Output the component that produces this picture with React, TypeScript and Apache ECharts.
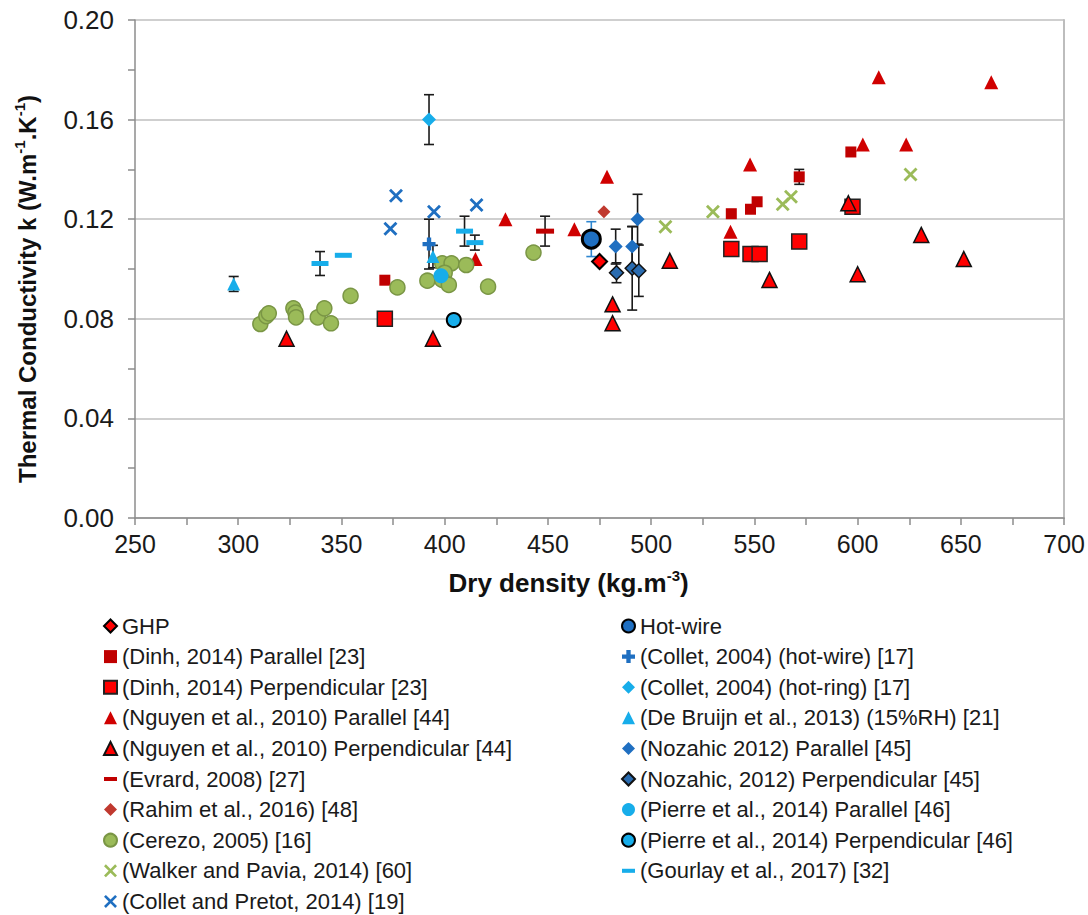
import React, { useEffect, useRef } from "react";
import * as echarts from "echarts";

// ---- data: [dry density, thermal conductivity, error (half-range, 0 = none)] ----
const ghp = [[475.0, 0.103, 0]];
const hotWire = [[471.0, 0.112, 0.007]];
const dinhParallel = [[371.0, 0.0955, 0], [538.8, 0.1222, 0], [548.1, 0.124, 0], [551.3, 0.127, 0], [571.7, 0.137, 0.003], [596.7, 0.147, 0]];
const dinhPerp = [[371.0, 0.080, 0], [538.8, 0.108, 0], [548.1, 0.106, 0], [552.5, 0.106, 0], [571.7, 0.111, 0], [597.5, 0.125, 0]];
const nguyenParallel = [[414.9, 0.104, 0], [429.4, 0.120, 0], [462.8, 0.116, 0], [478.6, 0.137, 0], [538.4, 0.115, 0], [547.9, 0.142, 0], [602.5, 0.150, 0], [610.2, 0.177, 0], [623.5, 0.150, 0], [664.7, 0.175, 0]];
const nguyenPerp = [[323.4, 0.072, 0], [394.3, 0.072, 0], [481.3, 0.0858, 0], [481.3, 0.0782, 0], [509.0, 0.1033, 0], [557.3, 0.0956, 0], [595.5, 0.1264, 0], [600.0, 0.0979, 0], [630.8, 0.1137, 0], [651.4, 0.104, 0]];
const evrard = [[448.6, 0.1152, 0.006]];
const rahim = [[477.1, 0.123, 0]];
const cerezo = [[310.7, 0.0779, 0], [313.6, 0.0811, 0], [314.8, 0.0822, 0], [326.7, 0.0842, 0], [327.7, 0.0825, 0], [328.0, 0.0806, 0], [338.5, 0.0806, 0], [341.7, 0.0842, 0], [344.9, 0.0782, 0], [354.4, 0.0892, 0], [377.1, 0.0926, 0], [391.6, 0.0953, 0], [398.8, 0.1023, 0], [403.3, 0.1023, 0], [400.0, 0.0985, 0], [398.8, 0.0956, 0], [402.0, 0.0936, 0], [410.4, 0.1016, 0], [421.0, 0.0929, 0], [443.0, 0.1066, 0]];
const walker = [[506.9, 0.117, 0], [529.9, 0.123, 0], [563.7, 0.126, 0], [567.7, 0.129, 0], [625.6, 0.138, 0]];
const colletPretot = [[373.7, 0.1162, 0], [376.4, 0.1294, 0], [394.8, 0.123, 0], [415.4, 0.1257, 0]];
const colletHotWire = [[392.4, 0.110, 0.010]];
const colletHotRing = [[392.4, 0.160, 0.010]];
const deBruijn = [[297.8, 0.094, 0.003], [394.3, 0.105, 0.0045]];
const nozahicParallel = [[482.8, 0.109, 0.007], [490.8, 0.109, 0.008], [493.4, 0.120, 0.010]];
const nozahicPerp = [[483.2, 0.0985, 0.004], [490.8, 0.1003, 0.0168], [494.0, 0.0993, 0.0103]];
const pierreParallel = [[398.2, 0.0973, 0]];
const pierrePerp = [[404.4, 0.0795, 0]];
const gourlay = [[339.6, 0.1022, 0.0048], [350.9, 0.1055, 0], [409.6, 0.1152, 0.006], [414.6, 0.1106, 0.003]];

const FONT = "'Liberation Sans', Arial, Helvetica, sans-serif";
const PLUS = "path://M4,0H8V4H12V8H8V12H4V8H0V4H4Z";
const CROSS = "path://M0,2L2,0L7,5L12,0L14,2L9,7L14,12L12,14L7,9L2,14L0,12L5,7Z";
const DASH = "path://M0,0H16V5H0Z";

type Def = {
  name: string; data: number[][]; symbol: string; size: number | number[];
  color: string; border?: string; bw?: number; errColor?: string; icon?: string; col: 0 | 1; z?: number;
};

const defs: Def[] = [
  { name: "GHP", data: ghp, symbol: "diamond", size: 15, color: "#FF0000", border: "#000", bw: 2, col: 0, z: 6 },
  { name: "(Dinh, 2014) Parallel [23]", data: dinhParallel, symbol: "rect", size: 11, color: "#C00000", col: 0 },
  { name: "(Dinh, 2014) Perpendicular [23]", data: dinhPerp, symbol: "rect", size: 15, color: "#FF0000", border: "#222", bw: 1.5, col: 0 },
  { name: "(Nguyen et al., 2010) Parallel [44]", data: nguyenParallel, symbol: "triangle", size: 14, color: "#D00000", col: 0 },
  { name: "(Nguyen et al., 2010) Perpendicular [44]", data: nguyenPerp, symbol: "triangle", size: 15, color: "#FF0000", border: "#111", bw: 1.5, col: 0 },
  { name: "(Evrard, 2008) [27]", data: evrard, symbol: "rect", size: [18, 5], color: "#C00000", icon: DASH, col: 0 },
  { name: "(Rahim et al., 2016) [48]", data: rahim, symbol: "diamond", size: 13, color: "#C0392F", col: 0 },
  { name: "(Cerezo, 2005) [16]", data: cerezo, symbol: "circle", size: 15, color: "#9BBB59", border: "#7A9645", bw: 1.5, col: 0 },
  { name: "(Walker and Pavia, 2014) [60]", data: walker, symbol: CROSS, size: 14, color: "#9BBB59", col: 0 },
  { name: "(Collet and Pretot, 2014) [19]", data: colletPretot, symbol: CROSS, size: 14, color: "#1F6FC1", col: 0 },
  { name: "Hot-wire", data: hotWire, symbol: "circle", size: 18, color: "#1F6FC1", border: "#000", bw: 3, errColor: "#2E86D0", col: 1, z: 6 },
  { name: "(Collet, 2004) (hot-wire) [17]", data: colletHotWire, symbol: PLUS, size: 13, color: "#1F6FC1", col: 1 },
  { name: "(Collet, 2004) (hot-ring) [17]", data: colletHotRing, symbol: "diamond", size: 14, color: "#17ADEA", col: 1 },
  { name: "(De Bruijn et al., 2013) (15%RH) [21]", data: deBruijn, symbol: "triangle", size: 13, color: "#17ADEA", col: 1 },
  { name: "(Nozahic 2012) Parallel [45]", data: nozahicParallel, symbol: "diamond", size: 14, color: "#1F6FC1", col: 1 },
  { name: "(Nozahic, 2012) Perpendicular [45]", data: nozahicPerp, symbol: "diamond", size: 14, color: "#2A6CB0", border: "#111", bw: 1.5, col: 1 },
  { name: "(Pierre et al., 2014) Parallel [46]", data: pierreParallel, symbol: "circle", size: 15, color: "#17ADEA", col: 1 },
  { name: "(Pierre et al., 2014) Perpendicular [46]", data: pierrePerp, symbol: "circle", size: 14, color: "#17ADEA", border: "#000", bw: 2, col: 1 },
  { name: "(Gourlay et al., 2017) [32]", data: gourlay, symbol: "rect", size: [17, 5], color: "#17ADEA", icon: DASH, col: 1 },
];

export default function App() {
  const ref = useRef<HTMLDivElement>(null);
  useEffect(() => {
    document.body.style.margin = "0";
    if (!ref.current) return;
    const chart = echarts.init(ref.current, null, { renderer: "svg" });

    const errItems: number[][] = [];
    const errColors: string[] = [];
    defs.forEach((d) => {
      d.data.forEach((p) => {
        if (p[2] > 0) {
          errItems.push([p[0], p[1], p[2]]);
          errColors.push(d.errColor || "#1a1a1a");
        }
      });
    });

    const scatterSeries = defs.map((d) => ({
      name: d.name,
      type: "scatter",
      data: d.data.map((p) => [p[0], p[1]]),
      symbol: d.symbol,
      symbolSize: d.size,
      symbolKeepAspect: true,
      z: d.z || 4,
      itemStyle: {
        color: d.color,
        borderColor: d.border || d.color,
        borderWidth: d.border ? d.bw : 0,
        opacity: 1,
      },
      emphasis: { disabled: true },
    }));

    const errorSeries = {
      name: "errors",
      type: "custom",
      z: 3,
      data: errItems,
      encode: { x: 0, y: 1 },
      renderItem: (params: any, api: any) => {
        const x = api.value(0), y = api.value(1), e = api.value(2);
        const top = api.coord([x, y + e]);
        const bot = api.coord([x, y - e]);
        const hw = 5;
        const style = { stroke: errColors[params.dataIndex], lineWidth: 1.6 };
        return {
          type: "group",
          children: [
            { type: "line", shape: { x1: top[0], y1: top[1], x2: bot[0], y2: bot[1] }, style },
            { type: "line", shape: { x1: top[0] - hw, y1: top[1], x2: top[0] + hw, y2: top[1] }, style },
            { type: "line", shape: { x1: bot[0] - hw, y1: bot[1], x2: bot[0] + hw, y2: bot[1] }, style },
          ],
        };
      },
    };

    const legendBase = {
      orient: "vertical",
      top: 615,
      height: 340,
      padding: 0,
      itemWidth: 13,
      itemHeight: 13,
      itemGap: 8.6,
      selectedMode: false,
      textStyle: { fontSize: 22, color: "#1a1a1a", fontFamily: FONT },
    };
    const legendData = (col: number) =>
      defs.filter((d) => d.col === col).map((d) => (d.icon ? { name: d.name, icon: d.icon } : { name: d.name }));

    const option = {
      animation: false,
      backgroundColor: "#ffffff",
      grid: { left: 135, right: 21, top: 20, bottom: 397, containLabel: false },
      legend: [
        { ...legendBase, left: 103, data: legendData(0) },
        { ...legendBase, left: 621, data: legendData(1) },
      ],
      xAxis: {
        type: "value",
        min: 250,
        max: 700,
        interval: 50,
        name: "{b|Dry density (kg.m}{s|-3}{b|)}",
        nameLocation: "middle",
        nameGap: 50,
        nameTextStyle: {
          padding: [0, 62, 0, 0],
          rich: {
            b: { fontSize: 26, fontWeight: "bold", fontFamily: FONT, color: "#111", lineHeight: 30 },
            s: { fontSize: 15, fontWeight: "bold", fontFamily: FONT, color: "#111", verticalAlign: "top", lineHeight: 30 },
          },
        },
        axisLine: { show: true, lineStyle: { color: "#8c8c8c", width: 1.5 } },
        axisTick: { show: true, length: 7, lineStyle: { color: "#8c8c8c", width: 1.5 } },
        minorTick: { show: true, splitNumber: 2, length: 7, lineStyle: { color: "#8c8c8c", width: 1.5 } },
        axisLabel: { fontSize: 25, color: "#1a1a1a", fontFamily: FONT, margin: 13 },
        splitLine: { show: false },
      },
      yAxis: [
        {
          type: "value",
          min: 0,
          max: 0.2,
          interval: 0.04,
          name: "{b|Thermal Conductivity k (W.m}{s|-1}{b|.K}{s|-1}{b|)}",
          nameLocation: "middle",
          nameGap: 93,
          nameTextStyle: {
            padding: [0, 40, 0, 0],
            rich: {
              b: { fontSize: 24, fontWeight: "bold", fontFamily: FONT, color: "#111", lineHeight: 30 },
              s: { fontSize: 15, fontWeight: "bold", fontFamily: FONT, color: "#111", verticalAlign: "top", lineHeight: 30 },
            },
          },
          axisLine: { show: true, lineStyle: { color: "#8c8c8c", width: 1.5 } },
          axisTick: { show: true, length: 7, lineStyle: { color: "#8c8c8c", width: 1.5 } },
          minorTick: { show: true, splitNumber: 2, length: 7, lineStyle: { color: "#8c8c8c", width: 1.5 } },
          axisLabel: { fontSize: 26, color: "#1a1a1a", fontFamily: FONT, margin: 21, formatter: (v: number) => v.toFixed(2) },
          splitLine: { show: true, lineStyle: { color: "#cfcfcf", width: 2 } },
        },
        {
          type: "value",
          position: "right",
          min: 0,
          max: 0.2,
          interval: 0.04,
          axisLine: { show: true, lineStyle: { color: "#bdbdbd", width: 2 } },
          axisTick: { show: false },
          axisLabel: { show: false },
          splitLine: { show: false },
        },
      ],
      series: [errorSeries, ...scatterSeries],
    };
    chart.setOption(option as any);
    return () => chart.dispose();
  }, []);
  return <div ref={ref} style={{ width: 1088, height: 915 }} />;
}
